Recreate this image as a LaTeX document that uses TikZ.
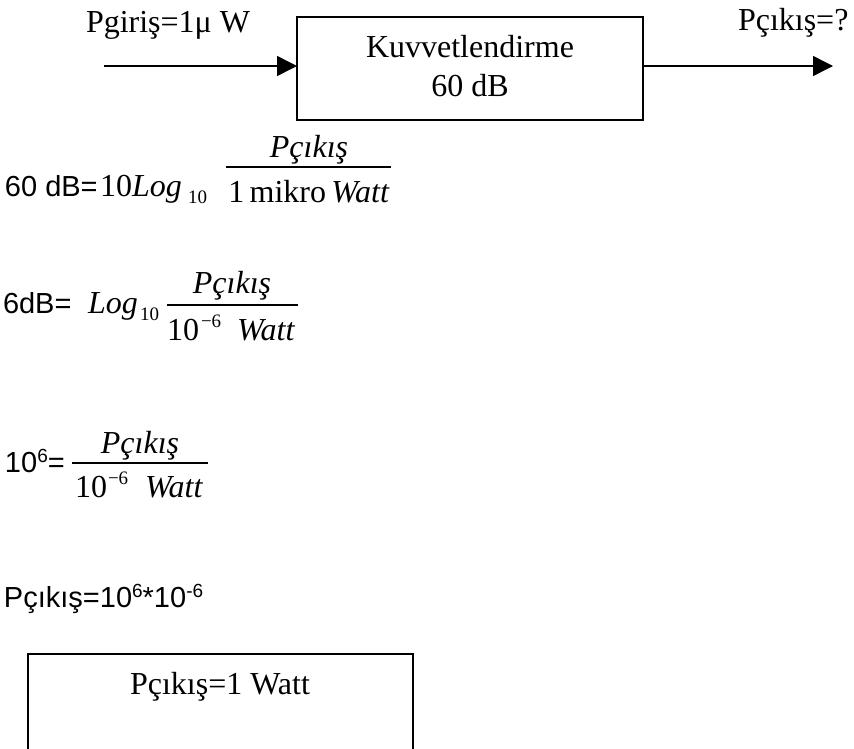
\documentclass[tikz,border=0pt]{standalone}
\usepackage{fontspec}
\setmainfont{Liberation Serif}
\setsansfont{Liberation Sans}
\usetikzlibrary{arrows.meta}
\newcommand{\fsT}{\fontsize{32}{38}\selectfont}
\newcommand{\fsS}{\fontsize{29}{34}\selectfont\sffamily}
\newcommand{\fsSub}{\fontsize{19}{22}\selectfont}
\newcommand{\supS}[1]{\raisebox{10pt}{\fontsize{19}{22}\selectfont #1}}
\begin{document}
\begin{tikzpicture}[x=1pt,y=-1pt,
  serif/.style={inner sep=0pt, outer sep=0pt, anchor=base west, font=\fsT},
  sans/.style={inner sep=0pt, outer sep=0pt, anchor=base west, font=\fsS},
  subs/.style={inner sep=0pt, outer sep=0pt, anchor=base west, font=\fsSub},
  frame/.style={draw=black, line width=1.5pt, inner sep=0pt, outer sep=0pt},
  arr/.style={line width=1.5pt, -{Triangle[length=20pt,width=20pt]}},
  bar/.style={line width=1.3pt}]
\clip (0,0) rectangle (854,748);
\fill[white] (0,0) rectangle (854,748);

% top block
\node[frame, minimum width=346pt, minimum height=103pt, anchor=north west] (amp) at (297,17) {};
\node[serif, anchor=base] (kv1) at (470,57.7) {Kuvvetlendirme};
\node[serif, anchor=base] (kv2) at (470,96) {60 dB};
\node[serif] (pin) at (86,32) {Pgiriş=1μ W};
\node[serif] (pout) at (738,30) {Pçıkış=?};
\coordinate (in) at (104,66);
\coordinate (out) at (833,66);
\draw[arr] (in) -- (in -| amp.west);
\draw[arr] (out -| amp.east) -- (out);

% equation 1
\node[sans] (e1l) at (5,196) {60 dB=};
\node[serif] (e1a) at (100,196) {10\textit{Log}};
\node[subs] (e1s) at (188,203) {10};
\coordinate (e1b1) at (226,167);
\coordinate (e1b2) at (391,167);
\draw[bar] (e1b1) -- (e1b2);
\node[serif, anchor=base] (e1n) at (309,157) {\textit{Pçıkış}};
\node[serif, anchor=base] (e1d) at (309,202) {1\,mikro\,\textit{Watt}};

% equation 2
\node[sans] (e2l) at (3,313) {6dB=};
\node[serif] (e2a) at (88,313) {\textit{Log}};
\node[subs] (e2s) at (140,320) {10};
\coordinate (e2b1) at (167,305);
\coordinate (e2b2) at (298,305);
\draw[bar] (e2b1) -- (e2b2);
\node[serif, anchor=base] (e2n) at (232,293) {\textit{Pçıkış}};
\node[serif] (e2d1) at (167,340) {10};
\node[subs] (e2d2) at (201,327) {−6};
\node[serif] (e2d3) at (237,340) {\textit{Watt}};

% equation 3
\node[sans] (e3l) at (5,472) {10\supS{6}=};
\coordinate (e3b1) at (72,463);
\coordinate (e3b2) at (208,463);
\draw[bar] (e3b1) -- (e3b2);
\node[serif, anchor=base] (e3n) at (140,453) {\textit{Pçıkış}};
\node[serif] (e3d1) at (75,497) {10};
\node[subs] (e3d2) at (108,484) {−6};
\node[serif] (e3d3) at (145,497) {\textit{Watt}};

% equation 4
\node[sans] (e4) at (4,607) {Pçıkış=10\supS{6}*10\supS{-6}};

% result box
\node[frame, minimum width=385pt, minimum height=130pt, anchor=north west] (res) at (28,654) {};
\node[serif, anchor=base] (restxt) at (220,694) {Pçıkış=1 Watt};
\end{tikzpicture}
\end{document}
